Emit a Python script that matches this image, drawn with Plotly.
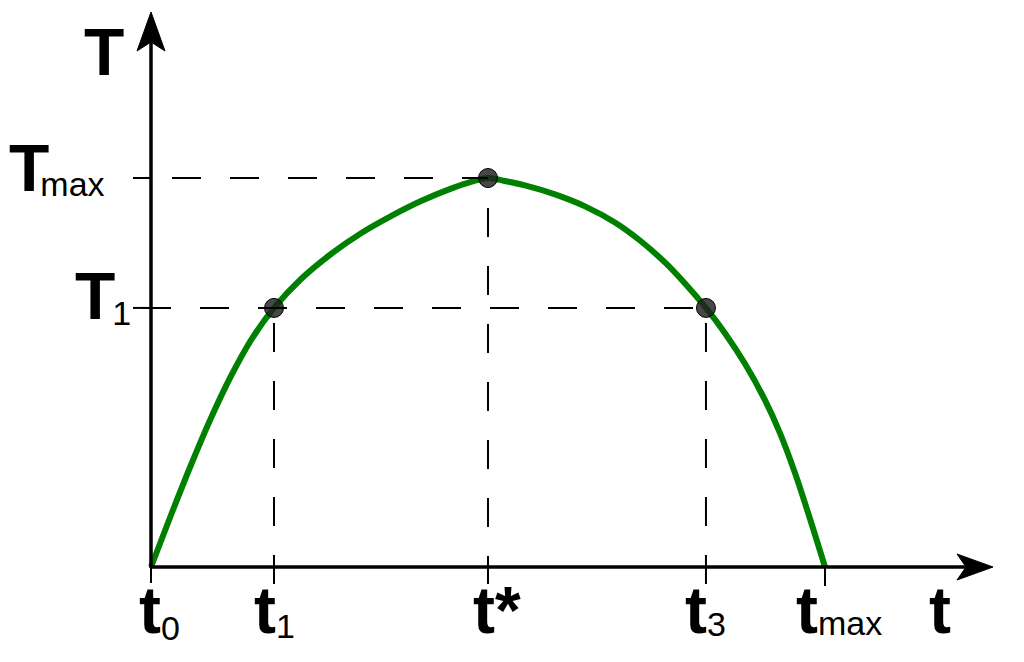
import plotly.graph_objects as go

# ---------------- data ----------------
t_curve = [0.0, 0.297, 0.593, 0.890, 1.187, 1.484, 1.825, 2.226, 2.671, 3.116, 3.561,
           4.006, 4.451, 4.748, 5.0, 5.252, 5.549, 5.994, 6.439, 6.884, 7.255, 7.626,
           7.923, 8.234, 8.516, 8.813, 9.110, 9.332, 9.555, 9.777, 10.0]
T_curve = [0.0, 1.337, 2.622, 3.830, 4.910, 5.835, 6.66, 7.404, 8.046, 8.580, 9.020,
           9.407, 9.727, 9.899, 10.0, 9.922, 9.809, 9.578, 9.271, 8.857, 8.393, 7.829,
           7.288, 6.66, 6.011, 5.224, 4.288, 3.444, 2.418, 1.241, 0.0]

t_ticks = [0.0, 1.825, 5.0, 8.234, 10.0]          # t0, t1, t*, t3, tmax
T_ticks = [6.66, 10.0]                             # T1, Tmax

point_t = [1.825, 5.0, 8.234]
point_T = [6.66, 10.0, 6.66]

# ---------------- scale helpers (pixels -> data units) ----------------
PX_T = 67.4   # pixels per t unit
PX_Y = 38.9   # pixels per T unit
W, H = 1016, 654          # page body has an 8px margin
X0_PX, Y0_PX = 143, 559   # origin inside the figure
x_range = [-X0_PX / PX_T, (W - X0_PX) / PX_T]
y_range = [(Y0_PX - H) / PX_Y, Y0_PX / PX_Y]


def dx(p):
    return p / PX_T


def dy(p):
    return p / PX_Y


t0, t1, ts, t3, tmax = t_ticks
T1, Tmax = T_ticks
X_TIP = dx(842)
Y_TIP = dy(555)

fig = go.Figure()

fig.add_trace(go.Scatter(
    x=t_curve, y=T_curve, mode="lines",
    line=dict(color="#008000", width=6, shape="spline", smoothing=1.0),
    hoverinfo="skip"))

fig.add_trace(go.Scatter(
    x=point_t, y=point_T, mode="markers",
    marker=dict(size=19, color="rgba(30,30,30,0.82)", line=dict(color="black", width=1)),
    hoverinfo="skip"))

shapes = []
DASH = "29px,29px"


def line(x0, y0, x1, y1, width=2, dash=None):
    d = dict(type="line", xref="x", yref="y", x0=x0, y0=y0, x1=x1, y1=y1,
             line=dict(color="black", width=width))
    if dash:
        d["line"]["dash"] = dash
    shapes.append(d)


# dashed guide lines
line(t0 + dx(21), Tmax, ts, Tmax, dash=DASH)
line(t0 - dx(9), T1, t3, T1, dash=DASH)
line(ts, Tmax - dy(30), ts, -dy(17), dash=DASH)
line(t1, T1 - dy(15), t1, -dy(17), dash=DASH)
line(t3, T1 - dy(15), t3, -dy(17), dash=DASH)

# ticks
line(t0, 0, t0, -dy(16))
line(tmax, 0, tmax, -dy(19))
line(t0 - dx(18), Tmax, t0, Tmax)
line(t0 - dx(18), T1, t0, T1)

# axes
line(t0 - dx(1), 0, X_TIP - dx(25), 0, width=3.5)
line(t0, -dy(1), t0, Y_TIP - dy(25), width=3.5)

# arrowheads
shapes.append(dict(
    type="path", xref="x", yref="y", fillcolor="black", line=dict(color="black", width=1),
    path=(f"M {X_TIP} 0 L {X_TIP - dx(36)} {dy(13)} L {X_TIP - dx(27)} 0 "
          f"L {X_TIP - dx(36)} {-dy(13)} Z")))
shapes.append(dict(
    type="path", xref="x", yref="y", fillcolor="black", line=dict(color="black", width=1),
    path=(f"M 0 {Y_TIP} L {-dx(14)} {Y_TIP - dy(39)} L 0 {Y_TIP - dy(30)} "
          f"L {dx(14)} {Y_TIP - dy(39)} Z")))

FONT = "Liberation Sans, Arial, sans-serif"
BIG, SUB = 66, 34
annotations = []


def sub(s, shift=5):
    return (f"<span style='font-size:{SUB}px;font-weight:normal;"
            f"baseline-shift:-{shift}px'>{s}</span>")


def tight(s, gap):
    return f"<span style='letter-spacing:-{gap}px'>{s}</span>"


def lab(text, x, y, xs, ys, xanchor="left"):
    annotations.append(dict(
        text=text, x=x, y=y, xref="x", yref="y", xshift=xs, yshift=ys,
        showarrow=False, xanchor=xanchor, yanchor="middle",
        font=dict(family=FONT, size=BIG, color="black", weight="bold")))


# axis titles
lab("T", t0, Y_TIP, -47, -40, "center")
lab("t", X_TIP, 0, -53.5, -43, "center")
# y tick labels
lab(tight("T", 9) + sub("max"), t0, Tmax, -144, 10)
lab(tight("T", 3) + sub("1", 6), t0, T1, -78, 12)
# x tick labels
lab("t" + sub("0", 7), t0, 0, -14.5, -43)
lab("t" + sub("1"), t1, 0, -22, -43)
lab("t*", ts, 0, -17.5, -43)
lab("t" + sub("3", 3), t3, 0, -22.5, -43)
lab("t" + sub("max", 2), tmax, 0, -31.5, -43)

fig.update_layout(
    width=W, height=H, autosize=False,
    margin=dict(l=0, r=0, t=0, b=0, pad=0),
    paper_bgcolor="white", plot_bgcolor="white",
    showlegend=False,
    xaxis=dict(range=x_range, visible=False, fixedrange=True),
    yaxis=dict(range=y_range, visible=False, fixedrange=True),
    shapes=shapes, annotations=annotations,
)

fig.write_html("out.html")
